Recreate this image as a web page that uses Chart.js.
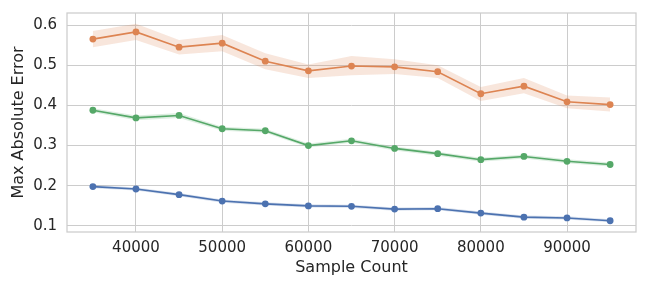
<!DOCTYPE html>
<html>
<head>
    <title>Max Absolute Error vs Sample Count</title>
    <script src="https://cdn.jsdelivr.net/npm/chart.js@4.4.1/dist/chart.umd.min.js"></script>
    <style>
        html, body { margin: 0; padding: 0; background: #fff; }
        #wrap { width: 648px; height: 288px; }
    </style>
</head>
<body>
    <div id="wrap"><canvas id="errChart" width="648" height="288"></canvas></div>

    <script>
        // values
        const sampleCounts = [35000, 40000, 45000, 50000, 55000, 60000, 65000, 70000, 75000, 80000, 85000, 90000, 95000];
        const xTicks = [40000, 50000, 60000, 70000, 80000, 90000];
        const yTicks = [0.1, 0.2, 0.3, 0.4, 0.5, 0.6];

        const orangeMean  = [0.565, 0.583, 0.545, 0.555, 0.510, 0.486, 0.498, 0.496, 0.484, 0.429, 0.448, 0.409, 0.402];
        const orangeUpper = [0.585, 0.603, 0.563, 0.575, 0.530, 0.502, 0.523, 0.515, 0.500, 0.446, 0.468, 0.425, 0.420];
        const orangeLower = [0.545, 0.563, 0.527, 0.535, 0.490, 0.468, 0.475, 0.478, 0.468, 0.411, 0.430, 0.393, 0.385];

        const greenMean  = [0.388, 0.369, 0.375, 0.342, 0.337, 0.300, 0.312, 0.293, 0.280, 0.265, 0.273, 0.261, 0.253];
        const greenUpper = [0.393, 0.375, 0.381, 0.347, 0.342, 0.305, 0.317, 0.298, 0.285, 0.270, 0.278, 0.266, 0.258];
        const greenLower = [0.383, 0.363, 0.369, 0.337, 0.332, 0.295, 0.307, 0.288, 0.275, 0.260, 0.268, 0.256, 0.248];

        const blueMean  = [0.198, 0.192, 0.178, 0.162, 0.155, 0.150, 0.149, 0.142, 0.143, 0.132, 0.122, 0.120, 0.113];
        const blueUpper = [0.202, 0.196, 0.182, 0.166, 0.159, 0.154, 0.153, 0.146, 0.147, 0.136, 0.126, 0.124, 0.117];
        const blueLower = [0.194, 0.188, 0.174, 0.158, 0.151, 0.146, 0.145, 0.138, 0.139, 0.128, 0.118, 0.116, 0.109];

        const BLUE = '#4c72b0', ORANGE = '#dd8452', GREEN = '#55a868';
        const GRID = '#cccccc', TEXT = '#262626';

        const pts = arr => arr.map((v, i) => ({ x: sampleCounts[i], y: v }));

        function band(lower, upper, fillColor) {
            return [
                { label: 'lo', data: pts(lower), pointRadius: 0, borderWidth: 0, fill: false },
                { label: 'hi', data: pts(upper), pointRadius: 0, borderWidth: 0, fill: '-1', backgroundColor: fillColor }
            ];
        }

        function line(data, color) {
            return {
                label: 'mean', data: pts(data), borderColor: color, backgroundColor: color,
                borderWidth: 1.6, pointRadius: 3.4, pointBorderWidth: 0, fill: false
            };
        }

        // spines on all four sides, like seaborn whitegrid
        const frame = {
            id: 'frame',
            afterDraw(chart) {
                const { ctx, chartArea: a } = chart;
                ctx.save();
                ctx.strokeStyle = GRID;
                ctx.lineWidth = 1.25;
                ctx.strokeRect(a.left, a.top, a.right - a.left, a.bottom - a.top);
                ctx.restore();
            }
        };

        Chart.defaults.font.family = "'DejaVu Sans', sans-serif";
        Chart.defaults.color = TEXT;

        const ctx = document.getElementById('errChart').getContext('2d');
        new Chart(ctx, {
            type: 'line',
            data: {
                datasets: [
                    line(blueMean, BLUE),
                    line(greenMean, GREEN),
                    line(orangeMean, ORANGE),
                    ...band(orangeLower, orangeUpper, 'rgba(221,132,82,0.2)'),
                    ...band(greenLower, greenUpper, 'rgba(85,168,104,0.2)'),
                    ...band(blueLower, blueUpper, 'rgba(76,114,176,0.2)')
                ]
            },
            options: {
                responsive: false,
                animation: false,
                layout: { padding: { top: 13, right: 12, left: 0, bottom: 0 } },
                plugins: {
                    legend: { display: false },
                    tooltip: { enabled: false },
                    filler: { drawTime: 'beforeDatasetsDraw' }
                },
                scales: {
                    x: {
                        type: 'linear',
                        min: 32000,
                        max: 98000,
                        afterBuildTicks: s => { s.ticks = xTicks.map(v => ({ value: v })); },
                        afterFit: s => { s.height = 56; s.paddingLeft = 0; s.paddingRight = 0; },
                        grid: { color: GRID, lineWidth: 1, drawTicks: false },
                        border: { display: false },
                        ticks: { padding: 7, font: { size: 15 }, maxRotation: 0, callback: v => String(v) },
                        title: { display: true, text: 'Sample Count', font: { size: 16 }, padding: { top: 0, bottom: 11 } }
                    },
                    y: {
                        min: 0.085,
                        max: 0.63,
                        afterBuildTicks: s => { s.ticks = yTicks.map(v => ({ value: v })); },
                        afterFit: s => { s.width = 67; s.paddingTop = 0; s.paddingBottom = 0; },
                        grid: { color: GRID, lineWidth: 1, drawTicks: false },
                        border: { display: false },
                        ticks: { padding: 10, font: { size: 15 }, callback: v => v.toFixed(1) },
                        title: { display: true, text: 'Max Absolute Error', font: { size: 16 }, padding: { top: 9, bottom: 0 } }
                    }
                }
            },
            plugins: [frame]
        });
    </script>
</body>
</html>
